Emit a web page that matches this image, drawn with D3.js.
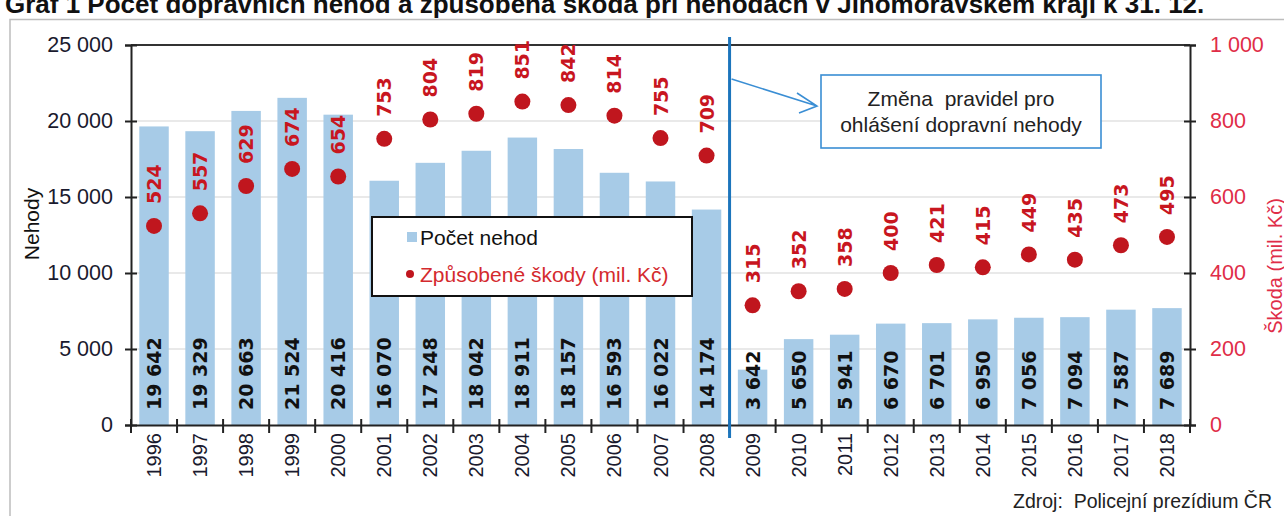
<!DOCTYPE html>
<html>
<head>
<meta charset="utf-8">
<script src="https://cdn.jsdelivr.net/npm/d3@7"></script>
<style>
  body { margin: 0; background: #fff; }
  svg { display: block; font-family: "Liberation Sans", Arial, sans-serif; }
</style>
</head>
<body>
<div id="chart"></div>
<script>
// data
const years = ["1996", "1997", "1998", "1999", "2000", "2001", "2002", "2003", "2004", "2005", "2006", "2007",
  "2008", "2009", "2010", "2011", "2012", "2013", "2014", "2015", "2016", "2017", "2018"];
const accidents = [19642, 19329, 20663, 21524, 20416, 16070, 17248, 18042, 18911, 18157, 16593, 16022,
  14174, 3642, 5650, 5941, 6670, 6701, 6950, 7056, 7094, 7587, 7689];
const damage = [524, 557, 629, 674, 654, 753, 804, 819, 851, 842, 814, 755,
  709, 315, 352, 358, 400, 421, 415, 449, 435, 473, 495];
const leftTicks = [0, 5000, 10000, 15000, 20000, 25000];
const rightTicks = [0, 200, 400, 600, 800, 1000];
const changeYear = "2009";

const W = 1284, H = 516;
const plot = { left: 131, right: 1190, top: 45, bottom: 425 };

const locale = d3.formatLocale({ decimal: ",", thousands: "\u00a0", grouping: [3], currency: ["", " Kč"] });
const fmt = locale.format(",");

const svg = d3.select("#chart").append("svg")
  .attr("width", W)
  .attr("height", H);

// title (cut off at top like the source image)
svg.append("text")
  .attr("x", 5)
  .attr("y", 13)
  .attr("font-weight", "bold")
  .attr("font-size", 26)
  .attr("fill", "#111")
  .text("Graf 1 Počet dopravních nehod a způsobená škoda při nehodách v Jihomoravském kraji k 31. 12.");

// chart frame
svg.append("rect")
  .attr("x", 10).attr("y", 19.5)
  .attr("width", 1300).attr("height", 520)
  .attr("fill", "none")
  .attr("stroke", "#bdbdbd")
  .attr("stroke-width", 1.5);

// scales
const x = d3.scaleBand()
  .domain(years)
  .range([plot.left, plot.right])
  .paddingInner(0.36)
  .paddingOuter(0.18);

const y = d3.scaleLinear().domain([0, 25000]).range([plot.bottom, plot.top]);
const y2 = d3.scaleLinear().domain([0, 1000]).range([plot.bottom, plot.top]);

// gridlines
svg.append("g")
  .selectAll("line")
  .data(leftTicks.slice(1))
  .join("line")
  .attr("x1", plot.left).attr("x2", plot.right)
  .attr("y1", d => y(d)).attr("y2", d => y(d))
  .attr("stroke", d => d === 25000 ? "#333" : "#d4d4d4")
  .attr("stroke-width", d => d === 25000 ? 2 : 1.2);

// bars
svg.append("g")
  .selectAll("rect")
  .data(years)
  .join("rect")
  .attr("x", d => x(d))
  .attr("y", (d, i) => y(accidents[i]))
  .attr("width", x.bandwidth())
  .attr("height", (d, i) => y(0) - y(accidents[i]))
  .attr("fill", "#a7cbe7");

// bar labels
svg.append("g")
  .selectAll("text")
  .data(years)
  .join("text")
  .attr("transform", d => `translate(${x(d) + x.bandwidth() / 2 + 7},${plot.bottom - 15}) rotate(-90)`)
  .attr("font-family", "'DejaVu Sans', Verdana, sans-serif")
  .attr("font-weight", "bold")
  .attr("font-size", 19)
  .attr("fill", "#111")
  .text((d, i) => fmt(accidents[i]));

// left axis
const axL = svg.append("g")
  .attr("transform", `translate(${plot.left},0)`)
  .call(d3.axisLeft(y).tickValues(leftTicks).tickSize(6).tickPadding(12).tickFormat(fmt));
axL.select(".domain").attr("stroke", "#222").attr("stroke-width", 2);
axL.selectAll(".tick line").attr("x1", 6).attr("stroke", "#222").attr("stroke-width", 2);
axL.selectAll(".tick text")
  .attr("font-family", "'Liberation Sans', Arial, sans-serif")
  .attr("font-size", 21.5)
  .attr("fill", "#1a1a2e");

// right axis
const axR = svg.append("g")
  .attr("transform", `translate(${plot.right},0)`)
  .call(d3.axisRight(y2).tickValues(rightTicks).tickSize(6).tickPadding(14).tickFormat(fmt));
axR.select(".domain").attr("stroke", "#222").attr("stroke-width", 2);
axR.selectAll(".tick line").attr("x1", -6).attr("stroke", "#222").attr("stroke-width", 2);
axR.selectAll(".tick text")
  .attr("font-family", "'Liberation Sans', Arial, sans-serif")
  .attr("font-size", 21.5)
  .attr("fill", "#df2d48");

// bottom axis, ticks on category borders
const axB = svg.append("g")
  .attr("transform", `translate(0,${plot.bottom})`)
  .call(d3.axisBottom(x).tickSize(0).tickPadding(8));
axB.select(".domain").attr("stroke", "#222").attr("stroke-width", 2);
axB.selectAll(".tick text")
  .attr("font-family", "'Liberation Sans', Arial, sans-serif")
  .attr("font-size", 20)
  .attr("fill", "#1a1a2e")
  .attr("text-anchor", "end")
  .attr("transform", "rotate(-90)")
  .attr("x", -8)
  .attr("y", 0)
  .attr("dy", "0.35em");

const step = x.step();
const borders = years.map(d => x(d) - step * x.paddingOuter()).concat([plot.right]);
axB.selectAll(".border")
  .data(borders)
  .join("line")
  .attr("class", "border")
  .attr("x1", d => d).attr("x2", d => d)
  .attr("y1", -6).attr("y2", 8)
  .attr("stroke", "#222")
  .attr("stroke-width", 2);

// damage dots
svg.append("g")
  .selectAll("circle")
  .data(years)
  .join("circle")
  .attr("cx", d => x(d) + x.bandwidth() / 2)
  .attr("cy", (d, i) => y2(damage[i]))
  .attr("r", 8)
  .attr("fill", "#c0161e");

// damage labels
svg.append("g")
  .selectAll("text")
  .data(years)
  .join("text")
  .attr("transform", (d, i) => `translate(${x(d) + x.bandwidth() / 2 + 7},${y2(damage[i]) - 22}) rotate(-90)`)
  .attr("font-family", "'DejaVu Sans', Verdana, sans-serif")
  .attr("font-weight", "bold")
  .attr("font-size", 19)
  .attr("fill", "#c8161f")
  .text((d, i) => fmt(damage[i]));

// axis titles
svg.append("text")
  .attr("transform", "translate(39,224) rotate(-90)")
  .attr("text-anchor", "middle")
  .attr("font-size", 21)
  .attr("fill", "#111")
  .text("Nehody");

svg.append("text")
  .attr("transform", "translate(1282,266) rotate(-90)")
  .attr("text-anchor", "middle")
  .attr("font-size", 20)
  .attr("fill", "#df2d48")
  .text("Škoda (mil. Kč)");

// rule change marker
const changeX = x(changeYear) - step * x.paddingOuter();
svg.append("line")
  .attr("x1", changeX).attr("x2", changeX)
  .attr("y1", 37).attr("y2", 438)
  .attr("stroke", "#1c75bc")
  .attr("stroke-width", 3);

const tip = [817, 106];
svg.append("path")
  .attr("d", `M${changeX + 2},79 L${tip[0]},${tip[1]} M${tip[0] - 20},${tip[1] - 13} L${tip[0]},${tip[1]} L${tip[0] - 18},${tip[1] + 7}`)
  .attr("fill", "none")
  .attr("stroke", "#3a8ed4")
  .attr("stroke-width", 1.6);

svg.append("rect")
  .attr("x", 821).attr("y", 75)
  .attr("width", 280).attr("height", 73)
  .attr("fill", "#fff")
  .attr("stroke", "#3a8ed4")
  .attr("stroke-width", 1.6);

const note = svg.append("text")
  .attr("text-anchor", "middle")
  .attr("font-size", 21)
  .attr("fill", "#222");
note.append("tspan").attr("x", 961).attr("y", 106).attr("xml:space", "preserve").text("Změna  pravidel pro");
note.append("tspan").attr("x", 961).attr("y", 132).text("ohlášení dopravní nehody");

// legend
const lg = svg.append("g").attr("transform", "translate(372,217)");
lg.append("rect")
  .attr("width", 320).attr("height", 79)
  .attr("fill", "#fff")
  .attr("stroke", "#111")
  .attr("stroke-width", 2);
lg.append("rect")
  .attr("x", 35).attr("y", 15)
  .attr("width", 10).attr("height", 10)
  .attr("fill", "#a7cbe7");
lg.append("text")
  .attr("x", 48).attr("y", 28)
  .attr("font-size", 21)
  .attr("fill", "#111")
  .text("Počet nehod");
lg.append("circle")
  .attr("cx", 38).attr("cy", 57)
  .attr("r", 4)
  .attr("fill", "#c0161e");
lg.append("text")
  .attr("x", 48).attr("y", 65)
  .attr("font-size", 21)
  .attr("fill", "#d42a2e")
  .text("Způsobené škody (mil. Kč)");

// source
svg.append("text")
  .attr("x", 1272).attr("y", 508)
  .attr("text-anchor", "end")
  .attr("font-size", 19.5)
  .attr("fill", "#222")
  .attr("xml:space", "preserve")
  .text("Zdroj:  Policejní prezídium ČR");
</script>
</body>
</html>
